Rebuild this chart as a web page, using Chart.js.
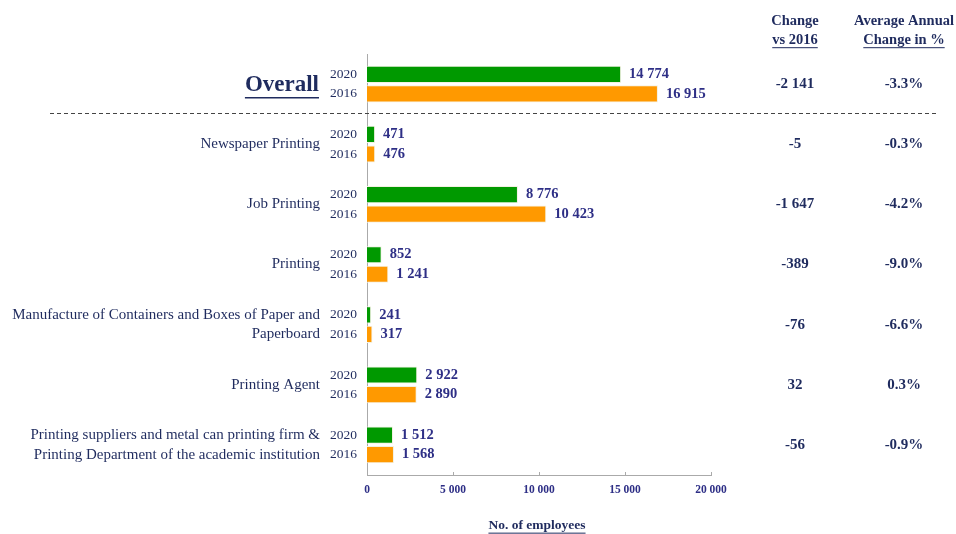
<!DOCTYPE html>
<html>
<head>
<meta charset="utf-8">
<script src="https://cdn.jsdelivr.net/npm/chart.js@4.4.1/dist/chart.umd.min.js"></script>
<style>
  html, body { margin: 0; padding: 0; background: #fff; overflow: hidden; }
  #jobs { display: block; }
</style>
</head>
<body>
<canvas id="jobs" width="956" height="534"></canvas>
<script>
"use strict";

// Kategorier, en rad per grupp (arrays = två rader text)
const categories = [
    "Overall",
    "Newspaper Printing",
    "Job Printing",
    "Printing",
    ["Manufacture of Containers and Boxes of Paper and", "Paperboard"],
    "Printing Agent",
    ["Printing suppliers and metal can printing firm &", "Printing Department of the academic institution"]
];
const years = ["2020", "2016"];
const employees2020 = [14774, 471, 8776, 852, 241, 2922, 1512];
const employees2016 = [16915, 476, 10423, 1241, 317, 2890, 1568];
const changeVs2016 = ["-2 141", "-5", "-1 647", "-389", "-76", "32", "-56"];
const avgAnnualChange = ["-3.3%", "-0.3%", "-4.2%", "-9.0%", "-6.6%", "0.3%", "-0.9%"];
const xTicks = [0, 5000, 10000, 15000, 20000];

const navy = "#1f2b5e";
const valueColor = "#2e2f86";
const serif = "'Liberation Serif', 'Times New Roman', serif";

function fmt(n) {
    return String(n).replace(/\B(?=(\d{3})+(?!\d))/g, " ");
}

function underline(ctx, text, x, y, align, size) {
    const w = ctx.measureText(text).width;
    let x0 = x;
    if (align === "center") x0 = x - w / 2;
    if (align === "right") x0 = x - w;
    ctx.save();
    ctx.strokeStyle = ctx.fillStyle;
    ctx.lineWidth = size > 18 ? 1.5 : 1;
    ctx.beginPath();
    ctx.moveTo(x0, y + size * 0.55);
    ctx.lineTo(x0 + w, y + size * 0.55);
    ctx.stroke();
    ctx.restore();
}

// Ritar all text runt diagrammet
const labelsPlugin = {
    id: "labels",
    afterDraw(chart) {
        const ctx = chart.ctx;
        const yScale = chart.scales.y;
        const xScale = chart.scales.x;
        const area = chart.chartArea;
        const meta20 = chart.getDatasetMeta(0);
        const meta16 = chart.getDatasetMeta(1);

        ctx.save();
        ctx.textBaseline = "middle";

        // små tickmarkeringar uppåt
        ctx.strokeStyle = "#aaaaaa";
        ctx.lineWidth = 1;
        xTicks.forEach(t => {
            const px = Math.round(xScale.getPixelForValue(t)) + 0.5;
            ctx.beginPath();
            ctx.moveTo(px, area.bottom);
            ctx.lineTo(px, area.bottom - 3);
            ctx.stroke();
        });

        categories.forEach((cat, i) => {
            const cy = yScale.getPixelForValue(i);
            const b20 = meta20.data[i];
            const b16 = meta16.data[i];

            // årtal
            ctx.fillStyle = navy;
            ctx.font = "13.5px " + serif;
            ctx.textAlign = "right";
            ctx.fillText(years[0], 357, b20.y);
            ctx.fillText(years[1], 357, b16.y);

            // kategorinamn
            if (i === 0) {
                ctx.font = "bold 23px " + serif;
                ctx.fillText(cat, 319, cy + 1);
                underline(ctx, cat, 319, cy + 1, "right", 23);
            } else if (Array.isArray(cat)) {
                ctx.font = "15px " + serif;
                ctx.fillText(cat[0], 320, b20.y);
                ctx.fillText(cat[1], 320, b16.y);
            } else {
                ctx.font = "15px " + serif;
                ctx.fillText(cat, 320, cy);
            }

            // värden vid staplarna
            ctx.fillStyle = valueColor;
            ctx.font = "bold 14.5px " + serif;
            ctx.textAlign = "left";
            ctx.fillText(fmt(employees2020[i]), b20.x + 8, b20.y);
            ctx.fillText(fmt(employees2016[i]), b16.x + 8, b16.y);

            // högra kolumner
            ctx.fillStyle = navy;
            ctx.font = "bold 15px " + serif;
            ctx.textAlign = "center";
            ctx.fillText(changeVs2016[i], 795, cy);
            ctx.fillText(avgAnnualChange[i], 904, cy);
        });

        // rubriker
        ctx.fillStyle = navy;
        ctx.font = "bold 14.5px " + serif;
        ctx.textAlign = "center";
        ctx.fillText("Change", 795, 21);
        ctx.fillText("vs 2016", 795, 40);
        underline(ctx, "vs 2016", 795, 40, "center", 14);
        ctx.fillText("Average Annual", 904, 21);
        ctx.fillText("Change in %", 904, 40);
        underline(ctx, "Change in %", 904, 40, "center", 14);

        // axeltitel
        ctx.font = "bold 13.5px " + serif;
        ctx.fillText("No. of employees", 537, 526);
        underline(ctx, "No. of employees", 537, 526, "center", 13);

        // streckad linje under Overall
        ctx.strokeStyle = "#444444";
        ctx.lineWidth = 1;
        ctx.setLineDash([4, 3]);
        ctx.beginPath();
        ctx.moveTo(50, 113.5);
        ctx.lineTo(938, 113.5);
        ctx.stroke();

        ctx.restore();
    }
};

const canvas = document.getElementById("jobs");

new Chart(canvas, {
    type: "bar",
    data: {
        labels: categories,
        datasets: [
            {
                label: years[0],
                data: employees2020,
                backgroundColor: "#009900",
                borderColor: "#f3f1e2",
                borderWidth: 1,
                borderSkipped: "left"
            },
            {
                label: years[1],
                data: employees2016,
                backgroundColor: "#ff9900",
                borderColor: "#f3f1e2",
                borderWidth: 1,
                borderSkipped: "left"
            }
        ]
    },
    options: {
        indexAxis: "y",
        responsive: false,
        animation: false,
        devicePixelRatio: 1,
        categoryPercentage: 0.65,
        barPercentage: 0.88,
        layout: {
            padding: { left: 367, right: 245, top: 54, bottom: 29 }
        },
        plugins: {
            legend: { display: false },
            tooltip: { enabled: false }
        },
        scales: {
            x: {
                min: 0,
                max: 20000,
                afterFit: s => { s.height = 30; },
                afterBuildTicks: s => { s.ticks = xTicks.map(v => ({ value: v })); },
                grid: { display: false, drawTicks: false },
                border: { color: "#aaaaaa", width: 1 },
                ticks: {
                    padding: 8,
                    color: valueColor,
                    font: { family: serif, size: 11.5, weight: "bold" },
                    callback: v => fmt(v)
                }
            },
            y: {
                afterFit: s => { s.width = 0; },
                grid: { display: false, drawTicks: false },
                border: { color: "#aaaaaa", width: 1 },
                ticks: { display: false }
            }
        }
    },
    plugins: [labelsPlugin]
});
</script>
</body>
</html>
